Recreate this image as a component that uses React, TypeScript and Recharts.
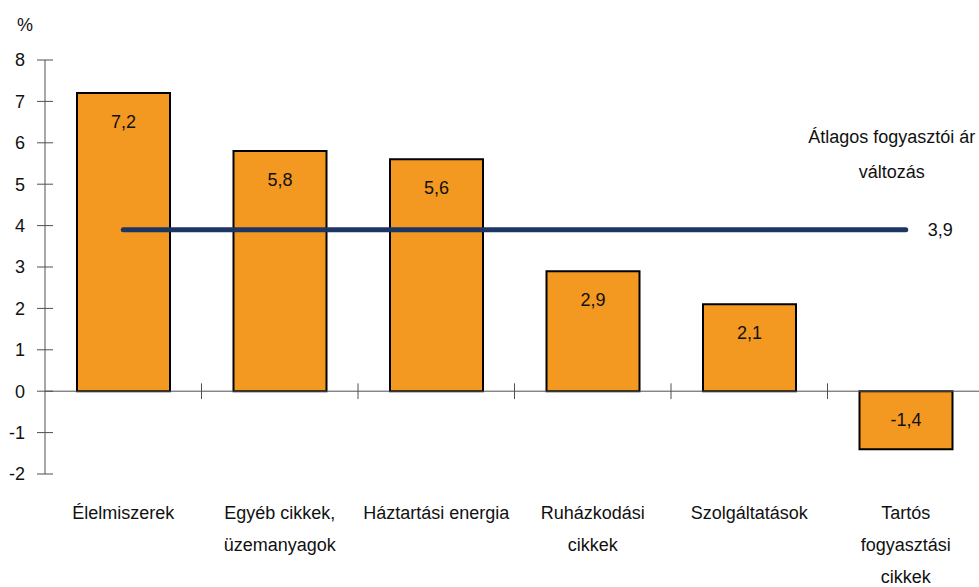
import React from "react";
import {
  ComposedChart,
  Bar,
  Line,
  XAxis,
  YAxis,
  ReferenceLine,
  LabelList,
  Label,
} from "recharts";

const categories = [
  "Élelmiszerek",
  "Egyéb cikkek,\nüzemanyagok",
  "Háztartási energia",
  "Ruházkodási\ncikkek",
  "Szolgáltatások",
  "Tartós\nfogyasztási\ncikkek",
];
const priceChange = [7.2, 5.8, 5.6, 2.9, 2.1, -1.4];
const average = 3.9;
const averageLabel = ["Átlagos fogyasztói ár", "változás"];
const yTicks = [-2, -1, 0, 1, 2, 3, 4, 5, 6, 7, 8];
const boundaries = [1, 2, 3, 4, 5];

const data = categories.map((name, i) => ({
  name,
  value: priceChange[i],
  avg: average,
  pos: i + 0.5,
}));

const FONT = "'Liberation Sans', Arial, sans-serif";
const AXIS = "#505050";
const fmt = (v: number) => v.toFixed(1).replace(".", ",");

const W = 979;
const H = 587;
const Y_AXIS_W = 45;

const YTick = (props: any) => {
  const { y, payload } = props;
  return (
    <g>
      <line x1={Y_AXIS_W - 8} x2={Y_AXIS_W + 8} y1={y} y2={y} stroke={AXIS} strokeWidth={1} />
      <text x={25} y={y} dy="0.36em" textAnchor="end" fontSize={18} fontFamily={FONT} fill="#111">
        {payload.value}
      </text>
    </g>
  );
};

const XTick = (props: any) => {
  const { x, y, payload } = props;
  const lines = String(payload.value).split("\n");
  return (
    <text x={x} y={y + 45} textAnchor="middle" fontSize={18} fontFamily={FONT} fill="#111">
      {lines.map((l, i) => (
        <tspan key={i} x={x} dy={i === 0 ? 0 : 32}>
          {l}
        </tspan>
      ))}
    </text>
  );
};

const BarValue = (props: any) => {
  const { x, y, width, height, value } = props;
  const top = Math.min(y, y + height);
  return (
    <text
      x={x + width / 2}
      y={top + 28}
      dy="0.36em"
      textAnchor="middle"
      fontSize={18}
      fontFamily={FONT}
      fill="#111"
    >
      {fmt(value)}
    </text>
  );
};

const AvgLabel = (props: any) => {
  const { x, y, index } = props;
  if (index !== categories.length - 1) return null;
  return (
    <g fontFamily={FONT} fontSize={18} fill="#111">
      <text x={x + 22} y={y} dy="0.36em" textAnchor="start">
        {fmt(average)}
      </text>
      {averageLabel.map((l, i) => (
        <text key={i} x={x - 14} y={y - 87 + i * 35} textAnchor="middle">
          {l}
        </text>
      ))}
    </g>
  );
};

export default function App() {
  return (
    <div style={{ position: "absolute", left: 0, top: 0, background: "#fff" }}>
      <ComposedChart
        width={W}
        height={H}
        data={data}
        margin={{ top: 60, right: -5, left: 0, bottom: 0 }}
      >
        <XAxis
          dataKey="name"
          axisLine={false}
          tickLine={false}
          tickSize={0}
          tickMargin={0}
          interval={0}
          height={113}
          tick={<XTick />}
        />
        <XAxis
          xAxisId="n"
          dataKey="pos"
          type="number"
          domain={[0, 6]}
          allowDataOverflow
          hide
        />
        <YAxis
          width={Y_AXIS_W}
          domain={[-2, 8]}
          ticks={yTicks}
          interval={0}
          axisLine={{ stroke: AXIS, strokeWidth: 1 }}
          tickLine={false}
          tick={<YTick />}
        >
          <Label
            content={() => (
              <text x={25} y={31} textAnchor="middle" fontSize={18} fontFamily={FONT} fill="#111">
                %
              </text>
            )}
          />
        </YAxis>
        <ReferenceLine y={0} stroke={AXIS} strokeWidth={1} />
        {boundaries.map((b) => (
          <ReferenceLine
            key={b}
            xAxisId="n"
            segment={[
              { x: b, y: -0.19 },
              { x: b, y: 0.19 },
            ]}
            stroke={AXIS}
            strokeWidth={1}
          />
        ))}
        <Bar
          dataKey="value"
          fill="#F39820"
          stroke="#000"
          strokeWidth={2}
          barSize={93}
          isAnimationActive={false}
        >
          <LabelList dataKey="value" content={<BarValue />} />
        </Bar>
        <Line
          dataKey="avg"
          stroke="#1C3563"
          strokeWidth={5}
          strokeLinecap="round"
          dot={false}
          activeDot={false}
          isAnimationActive={false}
        >
          <LabelList dataKey="avg" content={<AvgLabel />} />
        </Line>
      </ComposedChart>
    </div>
  );
}
